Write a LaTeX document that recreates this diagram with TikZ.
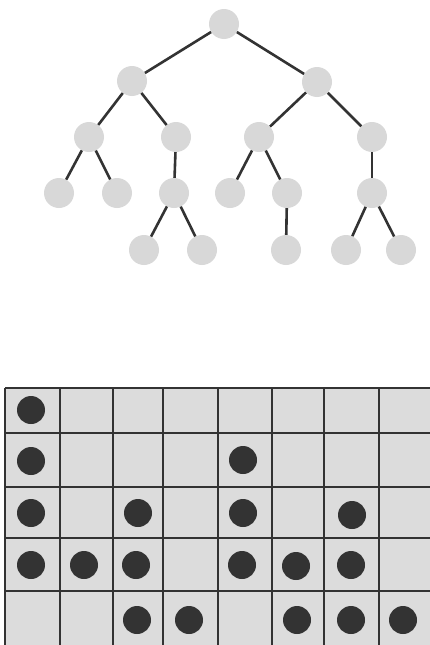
\documentclass[tikz,border=0pt]{standalone}
\begin{document}
\begin{tikzpicture}[x=1pt,y=-1pt,
  tnode/.style={circle,fill=treegray,inner sep=0pt,minimum size=30pt},
  tedge/.style={draw=linegray,line width=2.6pt},
  dot/.style={circle,fill=dotgray,inner sep=0pt,minimum size=28pt},
  gline/.style={draw=linegray,line width=1.8pt}]
\definecolor{treegray}{HTML}{D8D8D8}
\definecolor{cellgray}{HTML}{DCDCDC}
\definecolor{linegray}{HTML}{333333}
\definecolor{dotgray}{HTML}{333333}
\useasboundingbox (0,0) rectangle (430,645);
% tree
\node[tnode] (r) at (224,24) {};
\node[tnode] (a) at (132,81) {};
\node[tnode] (b) at (317,82) {};
\node[tnode] (aa) at (89,137) {};
\node[tnode] (ab) at (176,137) {};
\node[tnode] (ba) at (259,137) {};
\node[tnode] (bb) at (372,137) {};
\node[tnode] (aaa) at (59,193) {};
\node[tnode] (aab) at (117,193) {};
\node[tnode] (aba) at (174,193) {};
\node[tnode] (baa) at (230,193) {};
\node[tnode] (bab) at (287,193) {};
\node[tnode] (bba) at (372,193) {};
\node[tnode] (abaa) at (144,250) {};
\node[tnode] (abab) at (202,250) {};
\node[tnode] (baba) at (286,250) {};
\node[tnode] (bbaa) at (346,250) {};
\node[tnode] (bbab) at (401,250) {};
\foreach \p/\c in {r/a,r/b,a/aa,a/ab,b/ba,b/bb,aa/aaa,aa/aab,ab/aba,ba/baa,ba/bab,bb/bba,aba/abaa,aba/abab,bab/baba,bba/bbaa,bba/bbab}
  \draw[tedge] (\p) -- (\c);
% grid
\fill[cellgray] (5,388) rectangle (430,645);
\foreach \y in {388,433,487,538,591}
  \draw[gline] (5,\y) -- (430,\y);
\foreach \x in {5,60,113,163,218,272,324,379}
  \draw[gline] (\x,388) -- (\x,645);
% dots
\node[dot] (d11) at (31,410) {};
\node[dot] (d21) at (31,461) {};
\node[dot] (d25) at (243,460) {};
\node[dot] (d31) at (31,513) {};
\node[dot] (d33) at (138,513) {};
\node[dot] (d35) at (243,513) {};
\node[dot] (d37) at (352,515) {};
\node[dot] (d41) at (31,565) {};
\node[dot] (d42) at (84,565) {};
\node[dot] (d43) at (136,565) {};
\node[dot] (d45) at (242,565) {};
\node[dot] (d46) at (296,566) {};
\node[dot] (d47) at (351,565) {};
\node[dot] (d53) at (137,620) {};
\node[dot] (d54) at (189,620) {};
\node[dot] (d56) at (297,620) {};
\node[dot] (d57) at (351,620) {};
\node[dot] (d58) at (403,620) {};
\end{tikzpicture}
\end{document}
